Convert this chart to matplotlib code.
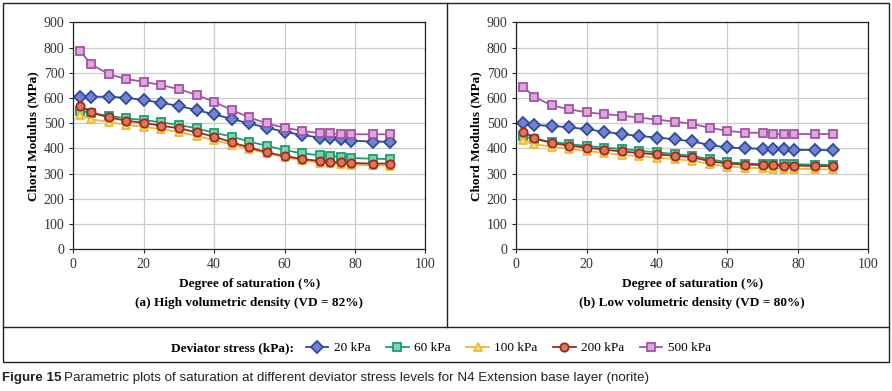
import matplotlib.pyplot as plt
from matplotlib.lines import Line2D
from matplotlib.patches import Rectangle

# Degree of saturation (%)
saturation = [2, 5, 10, 15, 20, 25, 30, 35, 40, 45, 50, 55, 60, 65, 70, 73, 76, 79, 85, 90]

# (a) High volumetric density, VD = 82%
high_20 = [605, 605, 605, 601, 592, 581, 568, 552, 535, 517, 499, 482, 466, 453, 443, 440, 436, 431, 427, 427]
high_60 = [550, 539, 530, 519, 513, 503, 493, 480, 462, 447, 427, 410, 394, 380, 373, 370, 367, 362, 359, 358]
high_100 = [532, 516, 505, 493, 486, 476, 465, 450, 433, 415, 398, 380, 366, 353, 343, 341, 338, 336, 333, 332]
high_200 = [568, 543, 523, 510, 501, 490, 480, 464, 447, 424, 404, 384, 370, 358, 350, 347, 345, 342, 340, 340]
high_500 = [786, 734, 695, 675, 664, 651, 635, 612, 585, 552, 523, 499, 482, 470, 460, 460, 456, 456, 456, 456]

# (b) Low volumetric density, VD = 80%
low_20 = [501, 493, 489, 484, 476, 466, 457, 449, 443, 436, 428, 413, 404, 400, 399, 398, 396, 394, 394, 392]
low_60 = [449, 436, 427, 417, 410, 403, 398, 391, 384, 378, 370, 357, 345, 340, 338, 337, 337, 337, 336, 334]
low_100 = [435, 417, 407, 398, 390, 382, 375, 369, 363, 358, 351, 338, 328, 324, 321, 320, 320, 320, 317, 317]
low_200 = [466, 441, 421, 411, 403, 395, 388, 382, 376, 371, 365, 349, 340, 336, 334, 333, 332, 332, 330, 330]
low_500 = [645, 605, 571, 555, 543, 536, 530, 522, 514, 506, 498, 481, 470, 462, 462, 457, 457, 457, 457, 457]

stress_labels = ['20 kPa', '60 kPa', '100 kPa', '200 kPa', '500 kPa']
markers = ['D', 's', '^', 'o', 's']
line_colors = ['#2e4a9e', '#1a9e72', '#f2b731', '#a3281c', '#a552a8']
face_colors = ['#7183cc', '#7fd3aa', '#ffe27e', '#d9785c', '#dca8da']
marker_sizes = [6, 5.5, 6, 6, 6]

serif = 'Liberation Serif'

fig = plt.figure(figsize=(8.92, 3.91), dpi=100)

# panel frames
fig.add_artist(Rectangle((3 / 892, 1 - 362 / 391), 886 / 892, 359 / 391,
                         transform=fig.transFigure, fill=False, lw=1.0, ec='#222222'))
fig.add_artist(Line2D([3 / 892, 889 / 892], [1 - 327 / 391] * 2,
                      transform=fig.transFigure, lw=1.0, color='#222222'))
fig.add_artist(Line2D([447 / 892] * 2, [1 - 327 / 391, 1 - 3 / 391],
                      transform=fig.transFigure, lw=1.0, color='#222222'))

panels = [
    (73.3, [high_20, high_60, high_100, high_200, high_500], '(a) High volumetric density (VD = 82%)'),
    (516.3, [low_20, low_60, low_100, low_200, low_500], '(b) Low volumetric density (VD = 80%)'),
]

for left_px, series, subtitle in panels:
    ax = fig.add_axes([left_px / 892, 1 - 249.3 / 391, 352 / 892, 227 / 391])
    for vals, m, lc, fc, ms in zip(series, markers, line_colors, face_colors, marker_sizes):
        ax.plot(saturation, vals, color=lc, lw=1.3, marker=m, markersize=ms,
                markerfacecolor=fc, markeredgecolor=lc, markeredgewidth=1.3)
    ax.set_xlim(0, 100)
    ax.set_ylim(0, 900)
    ax.set_xticks(range(0, 101, 20))
    ax.set_yticks(range(0, 901, 100))
    ax.grid(True, color='#cccccc', lw=0.9)
    ax.set_axisbelow(True)
    for s in ax.spines.values():
        s.set_color('#222222')
        s.set_linewidth(0.9)
    ax.tick_params(direction='out', length=3, width=0.8, labelsize=10, colors='#222222',
                   labelcolor='#333333')
    for lab in ax.get_xticklabels() + ax.get_yticklabels():
        lab.set_fontfamily(serif)
    ax.set_xlabel('Degree of saturation (%)', fontfamily=serif, fontweight='bold',
                  fontsize=9.5, labelpad=5)
    ax.set_ylabel('Chord Modulus (MPa)', fontfamily=serif, fontweight='bold',
                  fontsize=9.5, labelpad=3)
    ax.text(0.5, -0.235, subtitle, transform=ax.transAxes, ha='center', va='center',
            fontfamily=serif, fontweight='bold', fontsize=9.5)

# legend row
fig.text(294 / 892, 1 - 348 / 391, 'Deviator stress (kPa):', ha='right', va='center',
         fontfamily=serif, fontweight='bold', fontsize=9.5)
handles = [Line2D([], [], color=lc, lw=1.3, marker=m, markersize=ms,
                  markerfacecolor=fc, markeredgecolor=lc, markeredgewidth=1.3)
           for m, lc, fc, ms in zip(markers, line_colors, face_colors, marker_sizes)]
fig.legend(handles, stress_labels, loc='center left', bbox_to_anchor=(306 / 892, 1 - 348 / 391),
           ncol=5, frameon=False, handlelength=1.7, handletextpad=0.4, columnspacing=1.2,
           prop={'family': serif, 'size': 9.5}, borderaxespad=0, borderpad=0)

# caption
caption_font = ['Liberation Sans', 'DejaVu Sans']
cap_y = 1 - 378 / 391
fig.text(2 / 892, cap_y, 'Figure 15', ha='left', va='center', fontfamily=caption_font,
         fontweight='bold', fontsize=9.6, color='#222222')
fig.text(64 / 892, cap_y,
         'Parametric plots of saturation at different deviator stress levels for N4 Extension base layer (norite)',
         ha='left', va='center', fontfamily=caption_font, fontsize=9.6, color='#222222')

fig.savefig('out.png', dpi=100)
